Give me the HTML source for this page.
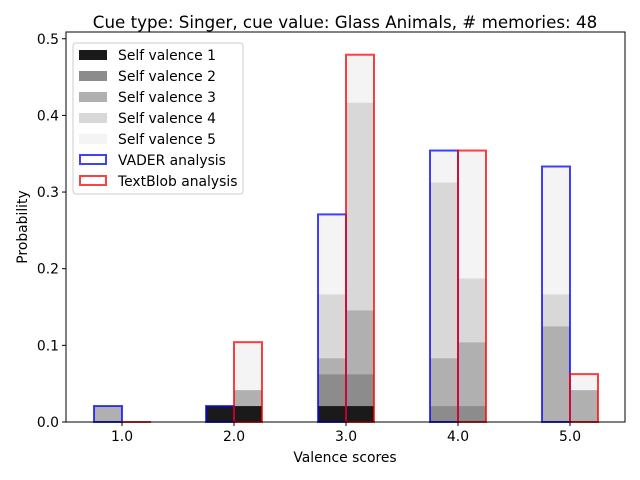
<!DOCTYPE html>
<html><head><meta charset="utf-8"><style>
body{margin:0;background:#fff}
svg{font-family:"DejaVu Sans","Liberation Sans",sans-serif;display:block}
</style></head><body>
<svg id="chart" width="640" height="480">
<rect width="640" height="480" fill="#fff"/>
<g id="bars"></g>
<g id="axes"></g>
<text x="345" y="28" font-size="16.7" text-anchor="middle">Cue type: Singer, cue value: Glass Animals, # memories: 48</text>
<text x="345" y="462" font-size="13.9" text-anchor="middle">Valence scores</text>
<text x="27" y="227" font-size="13.9" text-anchor="middle" transform="rotate(-90 27 227)">Probability</text>
<g font-size="13.9">
<rect x="73" y="43" width="170" height="151" rx="3" fill="#fff" fill-opacity="0.8" stroke="#ccc"/>
<g><rect x="79" y="50" width="28" height="10" fill="#1a1a1a"/><text x="118" y="60">Self valence 1</text></g>
<g><rect x="79" y="71" width="28" height="10" fill="#8c8c8c"/><text x="118" y="81">Self valence 2</text></g>
<g><rect x="79" y="92" width="28" height="10" fill="#b0b0b0"/><text x="118" y="102">Self valence 3</text></g>
<g><rect x="79" y="113" width="28" height="10" fill="#d8d8d8"/><text x="118" y="123">Self valence 4</text></g>
<g><rect x="79" y="134" width="28" height="10" fill="#f4f4f4"/><text x="118" y="144">Self valence 5</text></g>
<g><rect x="80" y="155" width="26" height="9" fill="none" stroke="rgba(0,0,255,0.75)" stroke-width="2"/><text x="118" y="165">VADER analysis</text></g>
<g><rect x="80" y="176" width="26" height="9" fill="none" stroke="rgba(255,0,0,0.75)" stroke-width="2"/><text x="118" y="186">TextBlob analysis</text></g>
</g>
</svg>
<script>
const bins=[1,2,3,4,5];
const binLabels=["1.0","2.0","3.0","4.0","5.0"];
const yTicks=[0,0.1,0.2,0.3,0.4,0.5];
const yTickLabels=["0.0","0.1","0.2","0.3","0.4","0.5"];
const seriesNames=["Self valence 1","Self valence 2","Self valence 3","Self valence 4","Self valence 5"];
const vaderS1=[0,1/48,1/48,0,0];
const vaderS2=[0,0,2/48,1/48,0];
const vaderS3=[1/48,0,1/48,3/48,6/48];
const vaderS4=[0,0,4/48,11/48,2/48];
const vaderS5=[0,0,5/48,2/48,8/48];
const tbS1=[0,1/48,1/48,0,0];
const tbS2=[0,0,2/48,1/48,0];
const tbS3=[0,1/48,4/48,4/48,2/48];
const tbS4=[0,0,13/48,4/48,0];
const tbS5=[0,3/48,3/48,8/48,1/48];
const colors=["#1a1a1a","#8c8c8c","#b0b0b0","#d8d8d8","#f4f4f4"];
const NS="http://www.w3.org/2000/svg";
const L=66,R=625,T=32,B=422;
const xS=v=>122+(v-1)*112;
const yS=v=>B-v*766.5;
const bw=0.25*112;
function mk(tag,attrs,parent,text){const e=document.createElementNS(NS,tag);for(const k in attrs)e.setAttribute(k,attrs[k]);if(text!==undefined)e.textContent=text;parent.appendChild(e);return e;}
const gb=document.getElementById('bars'),ga=document.getElementById('axes');
function stack(series,offset,name){
  bins.forEach((b,i)=>{let base=0;
    series.forEach((s,k)=>{const v=s[i];if(v>0){
      const r=mk('rect',{x:xS(b)+offset,y:yS(base+v),width:bw,height:yS(base)-yS(base+v),fill:colors[k]},gb);
      
      }
      base+=v;});
  });
}
function outline(series,offset,color,name){
  bins.forEach((b,i)=>{const tot=series.reduce((a,s)=>a+s[i],0);
    const r=mk('rect',{x:xS(b)+offset,y:yS(tot),width:bw,height:Math.max(0.01,yS(0)-yS(tot)),fill:'none',stroke:color,'stroke-width':2},gb);
    
    });
}
const vader=[vaderS1,vaderS2,vaderS3,vaderS4,vaderS5],tb=[tbS1,tbS2,tbS3,tbS4,tbS5];
stack(vader,-bw,'vader');stack(tb,0,'textblob');
outline(vader,-bw,'rgba(0,0,255,0.75)','vader');
outline(tb,0,'rgba(255,0,0,0.75)','textblob');
const fr=mk('rect',{x:L,y:T,width:R-L,height:B-T,fill:'none',stroke:'#000','stroke-width':1},ga);

bins.forEach((b,i)=>{const x=xS(b);
  mk('line',{x1:x,x2:x,y1:B,y2:B+4,stroke:'#000'},ga);
  const t=mk('text',{x:x,y:B+19,'font-size':13.9,'text-anchor':'middle'},ga,binLabels[i]);
  });
yTicks.forEach((v,i)=>{const y=yS(v);
  mk('line',{x1:L-4,x2:L,y1:y,y2:y,stroke:'#000'},ga);
  const t=mk('text',{x:L-7,y:y+5,'font-size':13.9,'text-anchor':'end'},ga,yTickLabels[i]);
  });
</script>
</body></html>
